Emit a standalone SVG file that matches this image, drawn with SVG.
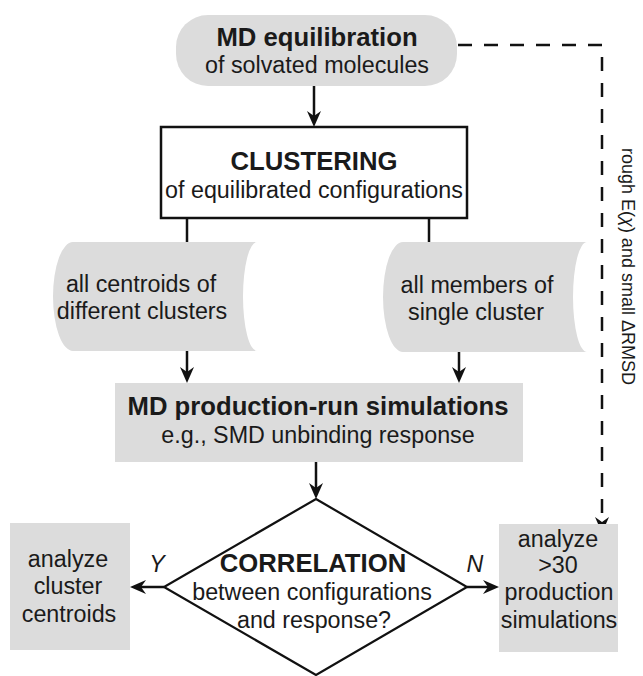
<svg xmlns="http://www.w3.org/2000/svg" width="643" height="676" viewBox="0 0 643 676">
<style>
  text { font-family: "Liberation Sans", Arial, sans-serif; fill: #1a1a1a; text-anchor: middle; }
  .b { font-weight: bold; font-size: 25.7px; }
  .r { font-size: 23.3px; }
  .i { font-size: 23.3px; font-style: italic; }
  .v { font-size: 18px; text-anchor: start; }
  .fill { fill: #dcdcdc; stroke: none; }
  .ln { fill: none; stroke: #111; stroke-width: 2.5; }
  .dash { fill: none; stroke: #111; stroke-width: 2.5; stroke-dasharray: 14 12; }
</style>
<defs>
  <marker id="ah" viewBox="0 0 16 14" refX="11" refY="7" markerWidth="16" markerHeight="14" markerUnits="userSpaceOnUse" orient="auto">
    <path d="M0,0 L16,7 L0,14 L5,7 Z" fill="#111"/>
  </marker>
</defs>

<g id="connectors">
  <line class="ln" x1="314" y1="86" x2="314" y2="122" marker-end="url(#ah)"/>
  <line class="ln" x1="187" y1="218" x2="187" y2="242"/>
  <line class="ln" x1="429" y1="218" x2="429" y2="242"/>
  <line class="ln" x1="187" y1="351" x2="187" y2="378" marker-end="url(#ah)"/>
  <line class="ln" x1="459" y1="352" x2="459" y2="378" marker-end="url(#ah)"/>
  <line class="ln" x1="316" y1="462" x2="316" y2="494" marker-end="url(#ah)"/>
  <line class="ln" x1="164" y1="587" x2="135" y2="587" marker-end="url(#ah)"/>
  <line class="ln" x1="467" y1="587" x2="494" y2="587" marker-end="url(#ah)"/>
  <path class="dash" d="M458,45 H602 V528" marker-end="url(#ah)"/>
  <text class="v" transform="translate(622,148) rotate(90)">rough E(<tspan font-style="italic">χ</tspan>) and small ΔRMSD</text>
</g>

<g id="md-equilibration">
  <rect class="fill" x="176" y="15" width="281" height="71" rx="32" ry="32"/>
  <text class="b" x="317" y="46">MD equilibration</text>
  <text class="r" x="317" y="73">of solvated molecules</text>
</g>

<g id="clustering">
  <rect x="161" y="127" width="306" height="91" fill="#fff" stroke="#111" stroke-width="2.5"/>
  <text class="b" x="314" y="170">CLUSTERING</text>
  <text class="r" x="314" y="198">of equilibrated configurations</text>
</g>

<g id="centroids">
  <path class="fill" d="M73,242 H257 A14,54.5 0 0 0 257,351 H73 A20,54.5 0 0 1 73,242 Z"/>
  <text class="r" x="141" y="292">all centroids of</text>
  <text class="r" x="142" y="319">different clusters</text>
</g>

<g id="members">
  <path class="fill" d="M403,242 H587 A14,55 0 0 0 587,352 H403 A20,55 0 0 1 403,242 Z"/>
  <text class="r" x="477" y="293">all members of</text>
  <text class="r" x="476" y="320">single cluster</text>
</g>

<g id="production">
  <rect class="fill" x="115" y="383" width="408" height="79"/>
  <text class="b" x="318" y="415">MD production-run simulations</text>
  <text class="r" x="318" y="443">e.g., SMD unbinding response</text>
</g>

<g id="correlation">
  <polygon points="316,499 467,587 316,675 164,587" fill="#fff" stroke="#111" stroke-width="2.2"/>
  <text class="b" x="313" y="572">CORRELATION</text>
  <text class="r" x="312" y="600">between configurations</text>
  <text class="r" x="314" y="628">and response?</text>
</g>

<g id="label-y"><text class="i" x="157" y="572">Y</text></g>
<g id="label-n"><text class="i" x="475" y="572">N</text></g>

<g id="analyze-centroids">
  <rect class="fill" x="10" y="523" width="120" height="127"/>
  <text class="r" x="68" y="567">analyze</text>
  <text class="r" x="68" y="594">cluster</text>
  <text class="r" x="69" y="622">centroids</text>
</g>

<g id="analyze-production">
  <rect class="fill" x="499" y="524" width="119" height="128"/>
  <text class="r" x="558" y="547">analyze</text>
  <text class="r" x="558" y="573">&gt;30</text>
  <text class="r" x="559" y="600">production</text>
  <text class="r" x="559" y="628">simulations</text>
</g>
</svg>
